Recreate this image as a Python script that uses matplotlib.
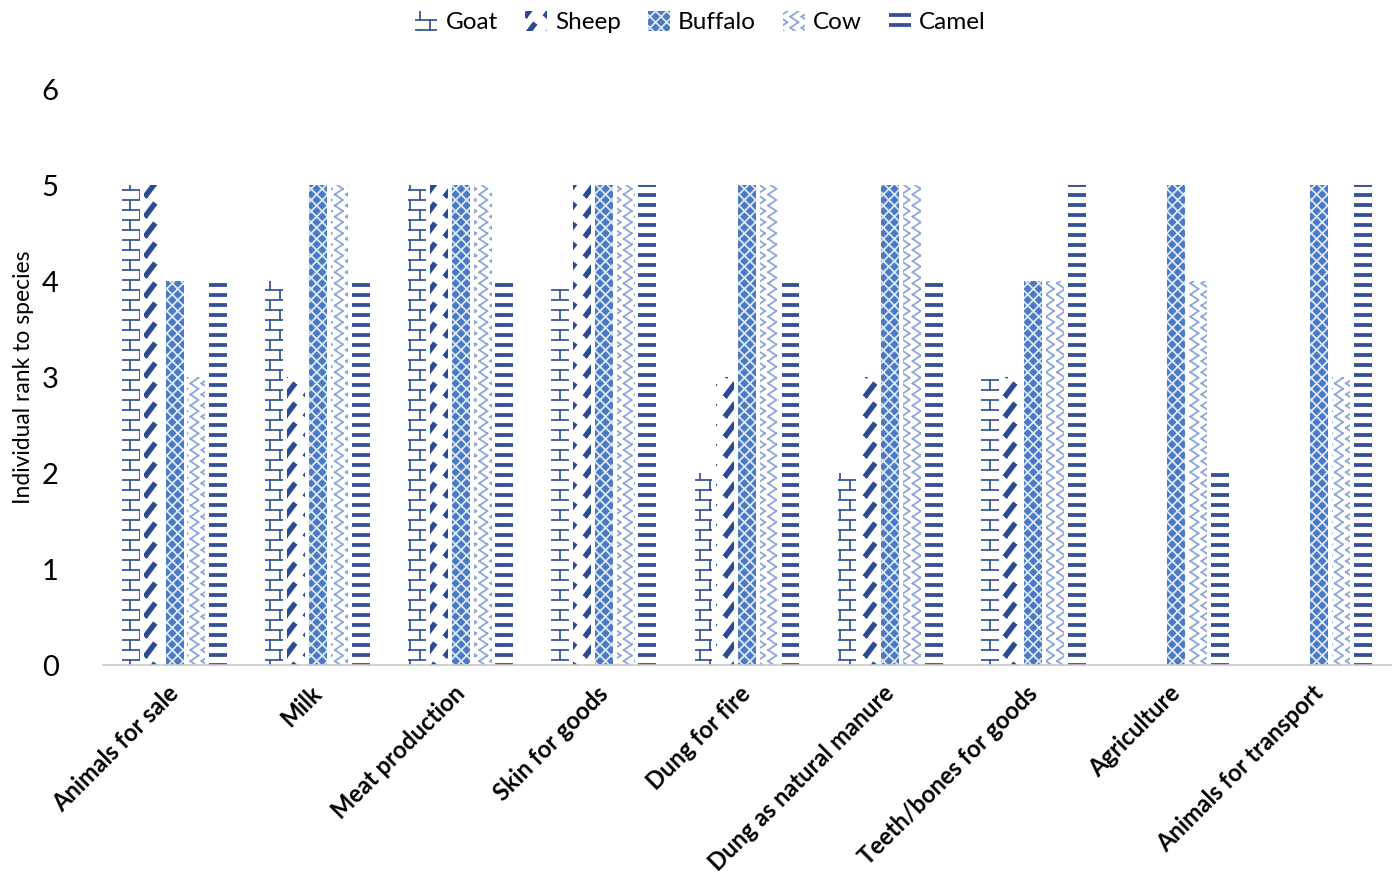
import warnings
import matplotlib
matplotlib.use("Agg")
import matplotlib.pyplot as plt
import matplotlib.hatch as mhatch
import matplotlib.transforms as mtransforms
from matplotlib.path import Path
import numpy as np

warnings.filterwarnings("ignore")

plt.rcParams['font.family'] = ['Lato', 'DejaVu Sans']
plt.rcParams['hatch.linewidth'] = 1.3

categories = ["Animals for sale", "Milk", "Meat production", "Skin for goods",
              "Dung for fire", "Dung as natural manure", "Teeth/bones for goods",
              "Agriculture", "Animals for transport"]
species = ["Goat", "Sheep", "Buffalo", "Cow", "Camel"]
goat = [5, 4, 5, 4, 2, 2, 3, 0, 0]
sheep = [5, 3, 5, 5, 3, 3, 3, 0, 0]
buffalo = [4, 5, 5, 5, 5, 5, 4, 5, 5]
cow = [3, 5, 5, 5, 5, 5, 4, 4, 3]
camel = [4, 4, 4, 5, 4, 4, 5, 2, 5]
yticks = [0, 1, 2, 3, 4, 5, 6]


# --- extra fill patterns: brick, slanted dashes, chevrons, bold rules ---
class _SegmentHatch(mhatch.HatchPatternBase):
    char = None

    def __init__(self, hatch, density):
        self.active = hatch.count(self.char) > 0
        self.polys = self.build() if self.active else []
        self.num_vertices = sum(len(p) + 1 for p in self.polys)

    def build(self):
        return []

    def set_vertices_and_codes(self, vertices, codes):
        i = 0
        for poly in self.polys:
            n = len(poly)
            vertices[i:i + n] = poly
            codes[i] = Path.MOVETO
            codes[i + 1:i + n] = Path.LINETO
            if n > 2:
                vertices[i + n] = poly[0]
                codes[i + n] = Path.LINETO
            else:
                vertices[i + n] = poly[1]
                codes[i + n] = Path.MOVETO
            i += n + 1


def _bar_poly(a, b, half):
    a, b = np.asarray(a, float), np.asarray(b, float)
    u = (b - a) / np.linalg.norm(b - a)
    nrm = np.array([-u[1], u[0]]) * half
    return [tuple(a - nrm), tuple(b - nrm), tuple(b + nrm), tuple(a + nrm)]


class BrickHatch(_SegmentHatch):
    char = 'b'

    def build(self):
        rows, cols = 10, 5
        segs = []
        for k in range(rows + 1):
            y = k / rows
            segs.append([(0.0, y), (1.0, y)])
        for k in range(rows):
            off = 0.5 * (k % 2)
            for i in range(cols + 1):
                xv = (i + off) / cols
                if xv <= 1.0:
                    segs.append([(xv, k / rows), (xv, (k + 1) / rows)])
        return segs


class DashHatch(_SegmentHatch):
    char = 'd'

    def build(self):
        rows, cols = 5, 5
        d = np.array([0.095, 0.125])
        polys = []
        for j in range(rows):
            for i in range(cols):
                c = np.array([(i + 0.5) / cols, (j + 0.5) / rows])
                polys.append(_bar_poly(c - d / 2, c + d / 2, 0.018))
        return polys


class ChevronHatch(_SegmentHatch):
    char = 'z'

    def build(self):
        cols, rows = 9, 9
        w, h = 0.08, 0.055
        segs = []
        for i in range(cols):
            x0 = i / cols + 0.015
            for k in range(rows):
                yc = (k + 0.5) / rows
                segs.append([(x0, yc), (x0 + w, yc + h)])
                segs.append([(x0, yc), (x0 + w, yc - h)])
        return segs


class RuleHatch(_SegmentHatch):
    char = 'r'

    def build(self):
        rows = 10
        return [_bar_poly((0.0, (k + 0.5) / rows), (1.0, (k + 0.5) / rows), 0.01)
                for k in range(rows)]


mhatch._hatch_types.extend([BrickHatch, DashHatch, ChevronHatch, RuleHatch])

series = [goat, sheep, buffalo, cow, camel]
styles = [
    dict(facecolor="white", edgecolor="#3a589c", hatch="b"),
    dict(facecolor="white", edgecolor="#2b4a96", hatch="d"),
    dict(facecolor="#4a7ac6", edgecolor="#dce7f7", hatch="xxx"),
    dict(facecolor="white", edgecolor="#8ea6d8", hatch="z"),
    dict(facecolor="white", edgecolor="#34509a", hatch="r"),
]

fig = plt.figure(figsize=(13.93, 8.84), dpi=100)
ax = fig.add_axes([0.074, 0.2477, 0.9245, 0.6516])

x = np.arange(len(categories))
step = 0.152
width = 0.125
for i, (name, vals, st) in enumerate(zip(species, series, styles)):
    ax.bar(x + (i - 2) * step, vals, width, label=name, linewidth=0, **st)

ax.set_xlim(-0.5, len(categories) - 0.5)
ax.set_ylim(0, 6)
ax.set_yticks(yticks)
ax.set_yticklabels([str(t) for t in yticks], fontsize=21)
ax.tick_params(axis='y', length=0, pad=32)
ax.tick_params(axis='x', length=0, pad=12)
ax.set_xticks(x)
ax.set_xticklabels(categories, rotation=45, ha='right', va='top',
                   rotation_mode='anchor', fontsize=17, fontweight='bold')
shift = mtransforms.ScaledTranslation(-8 / 100, 0, fig.dpi_scale_trans)
for lbl in ax.get_xticklabels():
    lbl.set_transform(lbl.get_transform() + shift)
ax.set_ylabel("Individual rank to species", fontsize=16.5)
ax.yaxis.set_label_coords(-0.054, 0.5)

for s in ["top", "right", "left"]:
    ax.spines[s].set_visible(False)
ax.spines["bottom"].set_color("#c8c8c8")
ax.spines["bottom"].set_linewidth(1.2)

fig.legend(*ax.get_legend_handles_labels(), loc='center',
           bbox_to_anchor=(0.503, 0.975), ncol=5, frameon=False, fontsize=17.5,
           handlelength=0.9, handleheight=0.9, columnspacing=1.1,
           handletextpad=0.35)

fig.savefig("out.png", dpi=100)
